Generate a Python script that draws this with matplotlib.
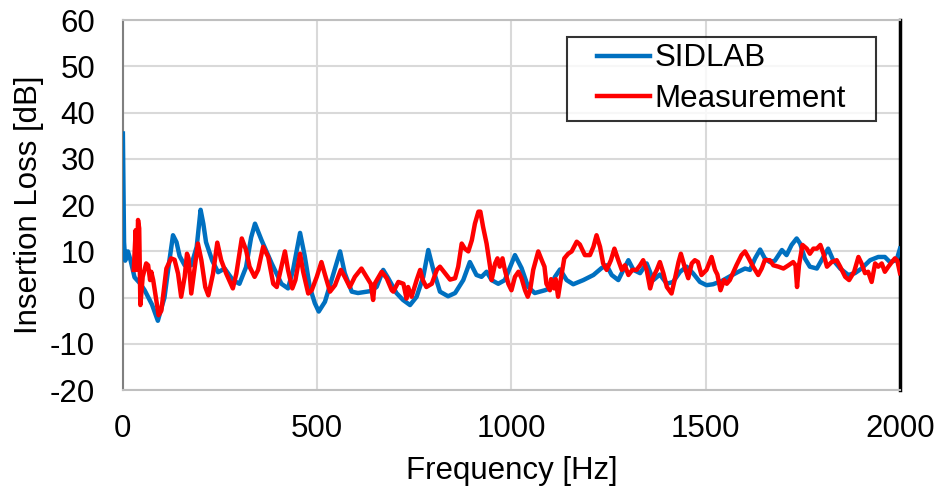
import matplotlib
matplotlib.use("Agg")
import matplotlib.pyplot as plt
from matplotlib.legend_handler import HandlerLine2D

# SIDLAB simulation (frequency [Hz], insertion loss [dB])
sidlab_f = [0, 3, 6, 13, 20, 30, 45, 56, 75, 90, 100, 107, 118, 129, 138, 146, 159, 176,
            190, 200, 207, 214, 230, 245, 262, 283, 300, 317, 330, 340, 357, 383, 408, 425,
            438, 456, 468, 481, 494, 504, 520, 537, 559, 571, 589, 605, 636, 653, 670, 683,
            704, 721, 739, 756, 773, 786, 799, 816, 837, 855, 876, 893, 910, 923, 936, 949,
            966, 983, 1009, 1026, 1043, 1060, 1086, 1099, 1112, 1125, 1142, 1159, 1185, 1211,
            1232, 1245, 1258, 1275, 1288, 1301, 1314, 1331, 1348, 1365, 1382, 1400, 1416, 1434,
            1451, 1468, 1485, 1502, 1519, 1541, 1562, 1584, 1601, 1614, 1627, 1640, 1652, 1665,
            1678, 1696, 1708, 1721, 1734, 1743, 1755, 1768, 1786, 1803, 1815, 1828, 1846, 1867,
            1884, 1901, 1923, 1944, 1961, 1974, 1991, 2000]
sidlab_il = [35.5, 12, 8, 10, 8, 4.4, 3, 1.6, -1.5, -5, -2, 0, 7, 13.5, 12, 9, 7, 7,
             11, 19, 16, 12, 8, 5.5, 6.3, 3.8, 3, 6.6, 13, 16, 12.4, 7.4, 3, 2,
             6, 14, 9, 2.3, -1.2, -3, -0.9, 3.8, 10, 5.3, 1.3, 1, 1.4, 2.3, 6, 4.2,
             1, -0.5, -1.6, 0.2, 4.5, 10.3, 6, 1.3, 0.3, 1, 3.8, 7.7, 4.9, 4.5, 5.6, 3.8,
             3, 3.8, 9.2, 6.4, 2.3, 1, 1.6, 2, 4.5, 6.1, 3.8, 2.9, 3.8, 4.9,
             6.4, 7, 4.9, 3.8, 6, 8.1, 6, 5.3, 7.4, 3.8, 5, 3, 3.4, 5.6,
             6.7, 5.2, 3.4, 2.7, 2.9, 3.6, 4.6, 5.6, 6.3, 6, 8.5, 10.4, 8.5, 7.7,
             8, 10.3, 9.2, 11.4, 12.8, 11.7, 8.5, 6.7, 6.3, 8.8, 10.6, 8.1, 6.3, 4.9,
             5.3, 6.3, 8.1, 8.8, 8.8, 7.7, 8.1, 10.6]

# Measurement
meas_f = [28, 33, 36, 39, 42, 45, 51, 60, 65, 70, 73, 78, 86, 92, 99, 112, 124, 133, 142,
          150, 159, 165, 169, 176, 184, 193, 202, 212, 220, 232, 243, 253, 266, 283, 292,
          306, 317, 326, 339, 348, 361, 374, 387, 396, 408, 417, 425, 436, 444, 456, 464,
          477, 486, 499, 511, 520, 533, 546, 561, 571, 584, 597, 614, 627, 638, 644, 648,
          666, 679, 692, 696, 709, 722, 730, 734, 743, 756, 765, 772, 781, 795, 808, 816,
          829, 842, 855, 863, 872, 880, 889, 898, 906, 915, 920, 927, 936, 945, 949, 958,
          964, 970, 977, 983, 992, 1000, 1009, 1018, 1026, 1035, 1042, 1048, 1056, 1069,
          1078, 1085, 1090, 1099, 1102, 1110, 1114, 1120, 1128, 1136, 1146, 1155, 1168,
          1176, 1189, 1202, 1211, 1219, 1228, 1236, 1245, 1256, 1265, 1275, 1284, 1292,
          1301, 1311, 1322, 1331, 1339, 1348, 1357, 1365, 1374, 1382, 1391, 1400, 1412,
          1421, 1430, 1436, 1447, 1455, 1464, 1472, 1480, 1489, 1502, 1515, 1524, 1530,
          1538, 1547, 1554, 1562, 1570, 1579, 1592, 1601, 1609, 1622, 1635, 1644, 1652,
          1665, 1674, 1687, 1700, 1713, 1725, 1731, 1735, 1740, 1749, 1760, 1768, 1777,
          1786, 1795, 1803, 1812, 1824, 1837, 1846, 1859, 1869, 1882, 1893, 1901, 1910,
          1918, 1927, 1936, 1944, 1953, 1961, 1970, 1979, 1987, 1993, 2000]
meas_il = [6, 14.6, 6, 16.8, 15, -1.6, 4.5, 7.4, 7, 3.8, 5.6, 3.8, -0.5, -3.8, -2.8, 6.3, 8.5, 8.2, 5.2,
           0.2, 4.5, 9.5, 8.5, 0.9, 6, 11.7, 8.1, 2.3, 0.5, 5.2, 11.9, 8.1, 5.2, 2, 5.2,
           12.8, 10.3, 6.7, 4.5, 6, 11, 8.8, 3, 2.3, 6.7, 10, 6, 2, 3.8, 9.5, 5.6,
           0.9, 1.6, 4.5, 7.7, 5, 1.3, 2.7, 6, 4.5, 2.3, 4.5, 6.3, 4.5, 3, -0.5, 3,
           5.6, 4.2, 1.6, 1.3, 3.4, 3, -0.2, 2.3, 0.2, 3.8, 6, 3.8, 2.3, 3, 6, 6.7,
           5.3, 3.9, 4.2, 6.7, 11.7, 10.6, 10, 12.4, 16, 18.6, 18.6, 15.3, 11.7, 6.7, 3.8, 7.4,
           8.5, 6.7, 8.5, 6, 3, 1.6, 4.5, 5.6, 4.2, 1.6, 0.2, 1.6, 6, 10,
           8.1, 6.7, 3, 1.6, 4, 2, 4, 0.2, 4.5, 8.5, 9.5, 10, 12.1,
           11.5, 9.2, 9.2, 11, 13.5, 11, 7.4, 6, 8.1, 10.6, 8.1, 6, 7,
           4.9, 6, 6, 7, 8.1, 6, 2, 4.5, 6, 7.7, 5.3, 2.3, 0.9,
           4.2, 7.7, 9.5, 6.3, 4.2, 7.4, 8.1, 7.7, 4.9, 6, 8.8, 6, 5,
           1.6, 3.8, 3, 3.8, 5.3, 7, 9.2, 10, 8.8, 6.7, 4.9, 6.3, 8.1,
           8.1, 7, 6.7, 6.3, 7, 7.7, 7, 2.3, 7, 11.4, 10.6, 9.5, 10.6,
           10.6, 11.4, 9.5, 6.7, 7.7, 8.1, 6.7, 4.5, 3.8, 5.6, 8.8, 7.4, 5.3,
           5.6, 3.4, 7.4, 6.7, 7.4, 5.6, 6.7, 7.7, 8.5, 8, 5.3]

x_ticks = [0, 500, 1000, 1500, 2000]
y_ticks = list(range(-20, 61, 10))

plt.rcParams['font.family'] = ['Liberation Sans', 'DejaVu Sans']
plt.rcParams['axes.unicode_minus'] = False

fs = 22.5

fig = plt.figure(figsize=(9.38, 4.92), dpi=100)
ax = fig.add_axes([0.131, 0.207, 0.8285, 0.752])

ax.plot(sidlab_f, sidlab_il, color='#0070C0', lw=3.2, label='SIDLAB',
        solid_joinstyle='round', zorder=3)
ax.plot(meas_f, meas_il, color='#FF0000', lw=3.2, label='Measurement',
        solid_joinstyle='round', zorder=4)

ax.set_xlim(0, 2000)
ax.set_ylim(-20, 60)
ax.set_xticks(x_ticks)
ax.set_yticks(y_ticks)
ax.grid(True, color='#D9D9D9', lw=1.5, zorder=0)
ax.set_axisbelow(True)
ax.tick_params(length=0, labelsize=fs, colors='black')
ax.tick_params(axis='y', pad=20)
ax.tick_params(axis='x', pad=17)

for side in ['top', 'bottom']:
    ax.spines[side].set_color('#BFBFBF')
    ax.spines[side].set_linewidth(1.5)
ax.spines['left'].set_color('#808080')
ax.spines['left'].set_linewidth(1.5)
ax.spines['right'].set_color('black')
ax.spines['right'].set_linewidth(2.5)

ax.set_xlabel('Frequency [Hz]', fontsize=fs, labelpad=9)
ax.set_ylabel('Insertion Loss [dB]', fontsize=fs, labelpad=4)

leg = ax.legend(loc='upper right', bbox_to_anchor=(0.5714, 0.0, 0.3976, 0.954),
                mode='expand', fontsize=fs, frameon=True, fancybox=False,
                handlelength=2.45, handletextpad=0.16, borderpad=0.2,
                labelspacing=0.35, borderaxespad=0,
                handler_map={plt.Line2D: HandlerLine2D(xpad=0.75)})
leg.get_frame().set_edgecolor('black')
leg.get_frame().set_linewidth(1.5)

fig.savefig('out.png', dpi=100)
